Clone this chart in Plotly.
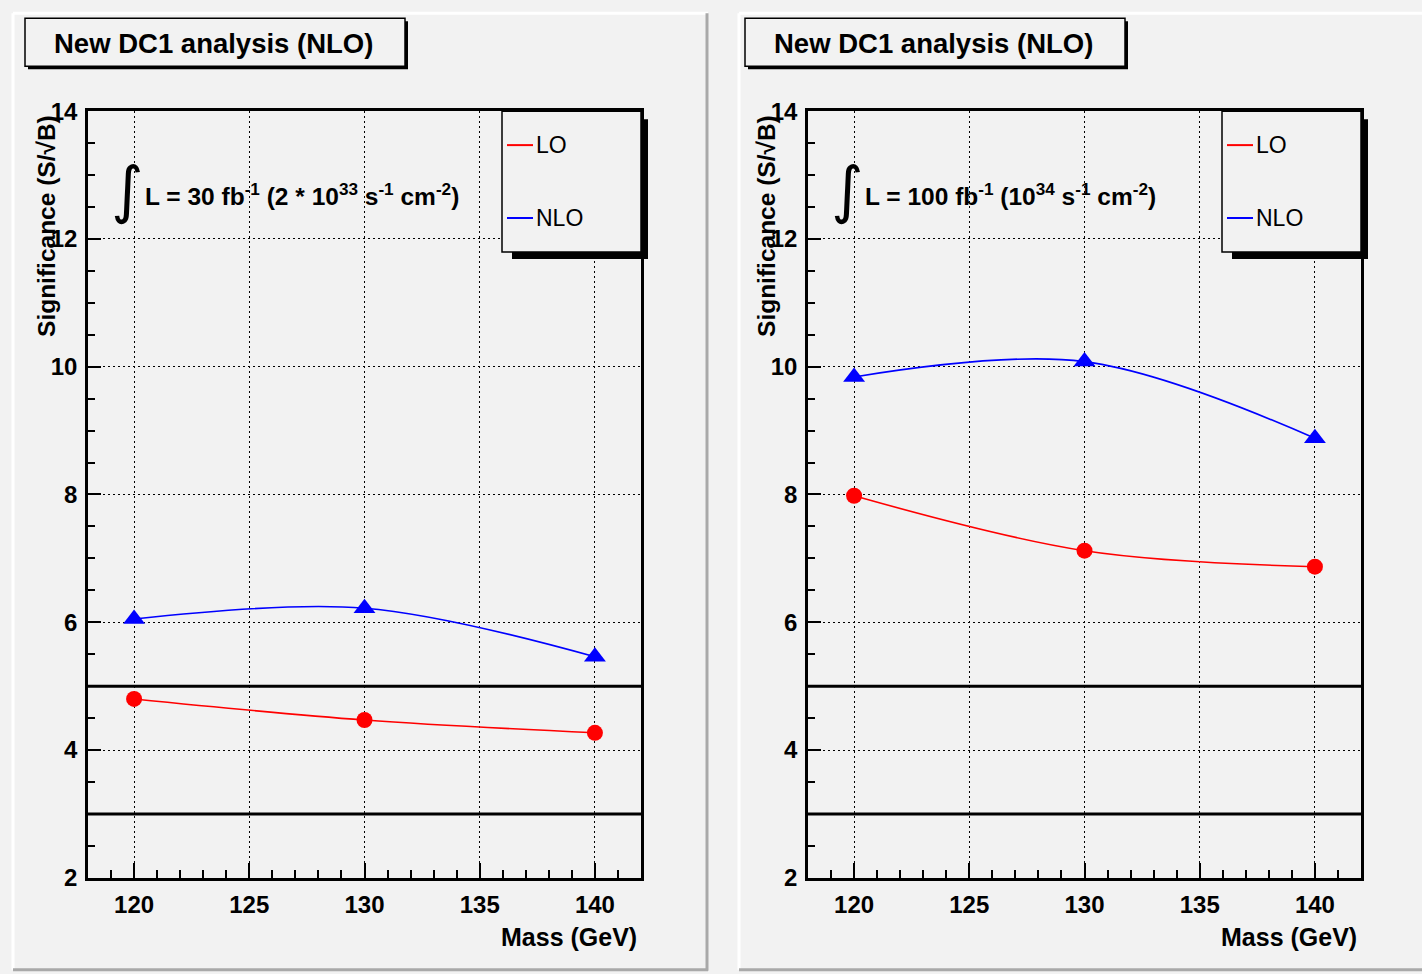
import plotly.graph_objects as go

W, H = 1422, 974

# ---------------- data ----------------
mass = [120, 130, 140]
lo_30 = [4.80, 4.47, 4.27]
nlo_30 = [6.05, 6.22, 5.46]
lo_100 = [7.98, 7.12, 6.87]
nlo_100 = [9.84, 10.08, 8.88]
thresholds = [5, 3]
panel_title = "New DC1 analysis (NLO)"
lumi_text = [
    "L = 30 fb<sup>-1</sup> (2 * 10<sup>33</sup> s<sup>-1</sup> cm<sup>-2</sup>)",
    "L = 100 fb<sup>-1</sup> (10<sup>34</sup> s<sup>-1</sup> cm<sup>-2</sup>)",
]
series_names = ["LO", "NLO"]
colors = ["#ff0000", "#0000ff"]

FONT = "Liberation Sans, Arial, Helvetica, sans-serif"
BG = "#f2f2f2"

# vertical correction for the rendering (observed ~2.6% compression)
YS = 0.974
YC = 487.0


def px(x):
    return x / W


def py(y):
    yy = YC + (y - YC) / YS
    return 1 - yy / H


fig = go.Figure()

panels = [
    dict(xa="x", ya="y", lo=lo_30, nlo=nlo_30, off=0, lumi=lumi_text[0]),
    dict(xa="x2", ya="y2", lo=lo_100, nlo=nlo_100, off=720, lumi=lumi_text[1]),
]

for p in panels:
    fig.add_trace(go.Scatter(
        x=mass, y=p["lo"], xaxis=p["xa"], yaxis=p["ya"], mode="lines+markers",
        line=dict(color=colors[0], width=1.6, shape="spline", smoothing=1.0),
        marker=dict(symbol="circle", size=16, color=colors[0]),
        showlegend=False, name=series_names[0]))
    fig.add_trace(go.Scatter(
        x=mass, y=p["nlo"], xaxis=p["xa"], yaxis=p["ya"], mode="lines+markers",
        line=dict(color=colors[1], width=1.6, shape="spline", smoothing=1.0),
        marker=dict(symbol="triangle-up", size=19, color=colors[1]),
        showlegend=False, name=series_names[1]))

axis_common = dict(
    showline=True, mirror=True, linecolor="black", linewidth=2.5,
    ticks="inside", tickcolor="black", tickwidth=2,
    showgrid=True, gridcolor="black", gridwidth=1.3, griddash="2px,3px",
    zeroline=False,
    tickfont=dict(family=FONT, size=24, color="black", weight="bold"),
)

xdom = [(88, 641), (808, 1361)]
ydom = [py(878), py(110)]

layout = dict(
    width=W, height=H,
    margin=dict(l=0, r=0, t=0, b=0),
    paper_bgcolor=BG, plot_bgcolor=BG,
    font=dict(family=FONT, color="black"),
    showlegend=False,
)
for i, (a, b) in enumerate(xdom):
    sx = "" if i == 0 else "2"
    layout["xaxis" + sx] = dict(
        axis_common, domain=[px(a), px(b)], range=[118, 142],
        anchor="y" + sx, tick0=120, dtick=5, ticklen=15,
        ticklabelstandoff=4,
        minor=dict(dtick=1, ticklen=8, ticks="inside", tickcolor="black",
                   tickwidth=2, showgrid=False),
    )
    layout["yaxis" + sx] = dict(
        axis_common, domain=ydom, range=[2, 14],
        anchor="x" + sx, tick0=2, dtick=2, ticklen=13,
        ticklabelstandoff=3,
        minor=dict(dtick=0.5, ticklen=7, ticks="inside", tickcolor="black",
                   tickwidth=2, showgrid=False),
    )
fig.update_layout(**layout)

shapes = []
annotations = []

# panel bevels
for (l, r) in [(13, 708), (739, 1424)]:
    shapes.append(dict(type="line", xref="paper", yref="paper", x0=px(l), x1=px(r),
                       y0=py(12), y1=py(12), line=dict(color="white", width=3), layer="below"))
    shapes.append(dict(type="line", xref="paper", yref="paper", x0=px(l), x1=px(l),
                       y0=py(12), y1=py(970), line=dict(color="white", width=3), layer="below"))
    shapes.append(dict(type="line", xref="paper", yref="paper", x0=px(l), x1=px(r),
                       y0=py(970), y1=py(970), line=dict(color="#a9a9a9", width=3), layer="below"))
    if r < W:
        shapes.append(dict(type="line", xref="paper", yref="paper", x0=px(r - 1), x1=px(r - 1),
                           y0=py(12), y1=py(971), line=dict(color="#a9a9a9", width=3), layer="below"))

for i, p in enumerate(panels):
    o = p["off"]
    sx = "" if i == 0 else "2"
    # threshold lines
    for t in thresholds:
        shapes.append(dict(type="line", xref="x" + sx + " domain", yref="y" + sx,
                           x0=0, x1=1, y0=t, y1=t,
                           line=dict(color="black", width=3), layer="above"))
    # title box with shadow
    shapes.append(dict(type="rect", xref="paper", yref="paper",
                       x0=px(28 + o), x1=px(408 + o), y0=py(20), y1=py(68),
                       fillcolor="black", line=dict(width=0), layer="above"))
    shapes.append(dict(type="rect", xref="paper", yref="paper",
                       x0=px(25 + o), x1=px(405 + o), y0=py(17), y1=py(65),
                       fillcolor=BG, line=dict(color="black", width=1.5), layer="above"))
    annotations.append(dict(xref="paper", yref="paper", x=px(213 + o), y=py(42),
                            text=panel_title, showarrow=False, xanchor="center",
                            yanchor="middle",
                            font=dict(family=FONT, size=27.5, color="black", weight="bold")))
    # legend box with shadow
    shapes.append(dict(type="rect", xref="paper", yref="paper",
                       x0=px(512 + o), x1=px(648 + o), y0=py(118), y1=py(258),
                       fillcolor="black", line=dict(width=0), layer="above"))
    shapes.append(dict(type="rect", xref="paper", yref="paper",
                       x0=px(502 + o), x1=px(641 + o), y0=py(110), y1=py(251),
                       fillcolor=BG, line=dict(color="black", width=1.5), layer="above"))
    for k, (nm, yy) in enumerate(zip(series_names, [144, 217])):
        shapes.append(dict(type="line", xref="paper", yref="paper",
                           x0=px(507 + o), x1=px(533 + o), y0=py(yy), y1=py(yy),
                           line=dict(color=colors[k], width=2), layer="above"))
        annotations.append(dict(xref="paper", yref="paper", x=px(534 + o), y=py(yy),
                                text=nm, showarrow=False, xanchor="left", yanchor="middle",
                                font=dict(family=FONT, size=23, color="black")))
    # integral sign + luminosity text
    annotations.append(dict(xref="paper", yref="paper", x=px(127 + o), y=py(188),
                            text="∫", showarrow=False, xanchor="center", yanchor="middle",
                            font=dict(family="DejaVu Sans", size=62, color="black")))
    annotations.append(dict(xref="paper", yref="paper", x=px(143 + o), y=py(193),
                            text=p["lumi"], showarrow=False, xanchor="left", yanchor="middle",
                            font=dict(family=FONT, size=24.5, color="black", weight="bold")))
    # axis titles
    annotations.append(dict(xref="paper", yref="paper", x=px(47 + o), y=py(225),
                            text="Significance (S/√B)", showarrow=False, textangle=-90,
                            xanchor="center", yanchor="middle",
                            font=dict(family=FONT, size=24.5, color="black", weight="bold")))
    annotations.append(dict(xref="paper", yref="paper", x=px(639 + o), y=py(937),
                            text="Mass (GeV)", showarrow=False, xanchor="right",
                            yanchor="middle",
                            font=dict(family=FONT, size=25, color="black", weight="bold")))

fig.update_layout(shapes=shapes, annotations=annotations)
fig.write_html("out.html")
